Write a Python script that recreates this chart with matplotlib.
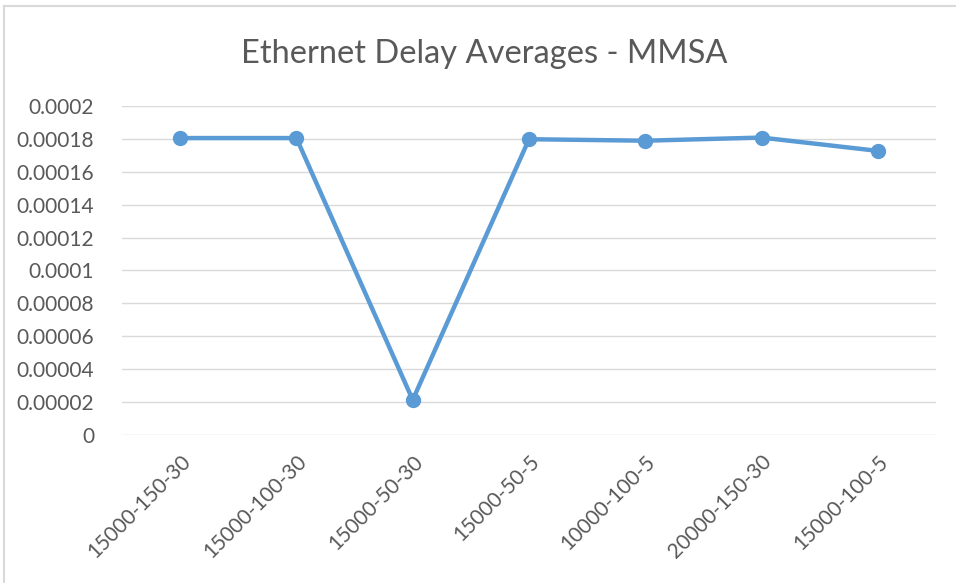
import matplotlib
matplotlib.use("Agg")
import matplotlib.pyplot as plt
from matplotlib.ticker import FuncFormatter, MultipleLocator
from matplotlib.lines import Line2D

# data
configs = ['15000-150-30', '15000-100-30', '15000-50-30', '15000-50-5',
           '10000-100-5', '20000-150-30', '15000-100-5']
delay = [0.0001805, 0.0001805, 0.0000213, 0.0001798, 0.0001789, 0.0001808, 0.0001727]

title = 'Ethernet Delay Averages - MMSA'
text_color = '#595959'
line_color = '#5B9BD5'

plt.rcParams['font.family'] = ['Lato', 'DejaVu Sans']

fig = plt.figure(figsize=(9.56, 5.83), dpi=100)
ax = fig.add_axes([0.1276, 0.2539, 0.8515, 0.5643])

x = list(range(len(configs)))
ax.plot(x, delay, color=line_color, linewidth=3.2, marker='o', markersize=10,
        solid_joinstyle='round', zorder=3)

ax.set_xlim(-0.5, len(configs) - 0.5)
ax.set_ylim(0, 0.0002)
ax.yaxis.set_major_locator(MultipleLocator(0.00002))


def fmt(v, pos):
    s = '{:.5f}'.format(v).rstrip('0').rstrip('.')
    return s


ax.yaxis.set_major_formatter(FuncFormatter(fmt))
ax.grid(axis='y', color='#D9D9D9', linewidth=1)
ax.set_axisbelow(True)

ax.set_xticks(x)
ax.set_xticklabels(configs, rotation=45, ha='right', rotation_mode='anchor')

for s in ax.spines.values():
    s.set_visible(False)
ax.tick_params(axis='both', length=0, colors=text_color, labelsize=15)
ax.tick_params(axis='y', pad=20)
ax.tick_params(axis='x', pad=12)

fig.text(484 / 956, 0.908, title, ha='center', va='center', fontsize=23.5, color=text_color)

# chart frame (top and left edges visible in the reference)
fig.add_artist(Line2D([0.004, 1.0], [0.989, 0.989], transform=fig.transFigure,
                      color='#D9D9D9', linewidth=1.5))
fig.add_artist(Line2D([0.004, 0.004], [0.0, 0.989], transform=fig.transFigure,
                      color='#D9D9D9', linewidth=1.5))

fig.savefig('out.png', dpi=100, facecolor='white')
